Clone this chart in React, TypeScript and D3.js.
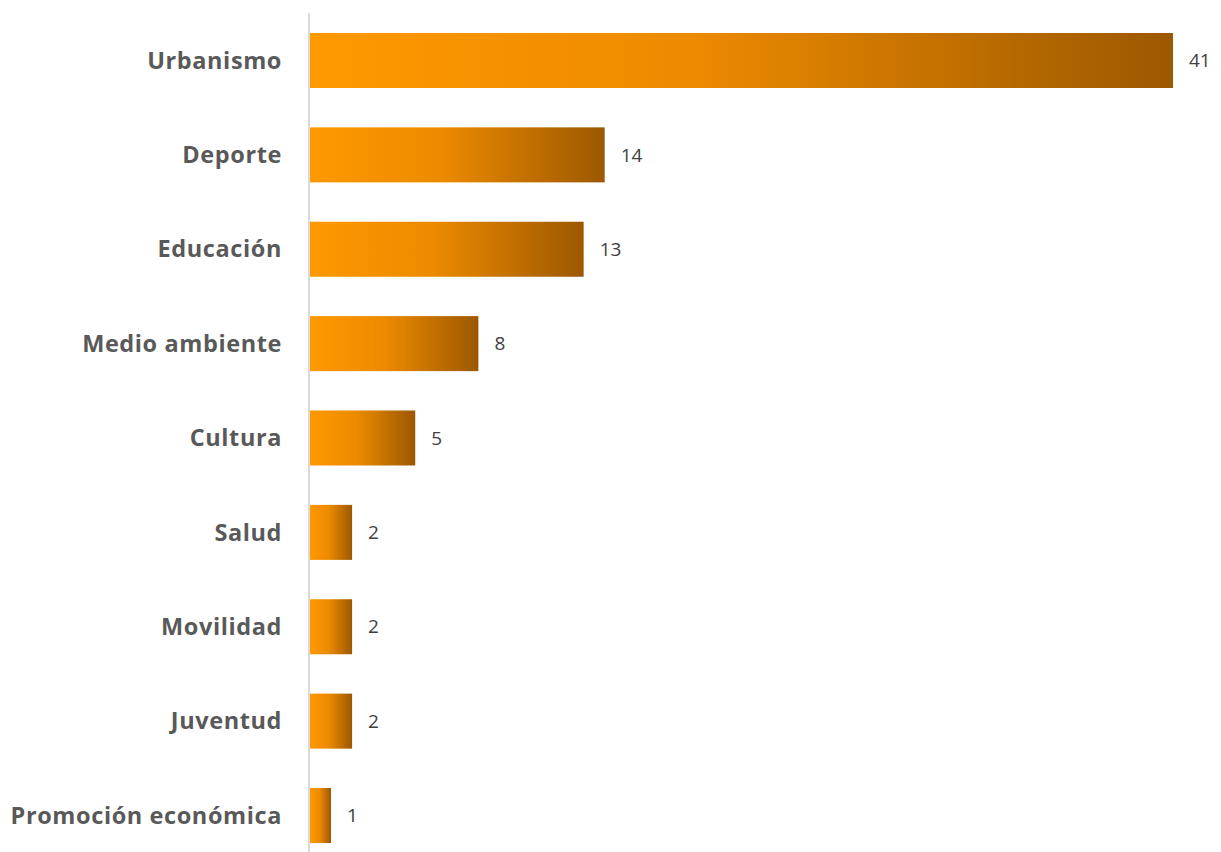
import React from "react";
import * as d3 from "d3";

const categories = ["Urbanismo", "Deporte", "Educación", "Medio ambiente", "Cultura", "Salud", "Movilidad", "Juventud", "Promoción económica"];
const values = [41, 14, 13, 8, 5, 2, 2, 2, 1];

const W = 1221;
const H = 852;

export default function App() {
  const x0 = 310;
  const x = d3.scaleLinear().domain([0, 41]).range([x0, 1173]);
  const y = d3.scaleBand<string>().domain(categories).range([13.3, 862.7]).paddingInner(0.417).paddingOuter(0.2085);
  return (
    <svg width={W} height={H} style={{ position: "absolute", left: 0, top: 0 }}>
      <defs>
        <linearGradient id="barGrad" x1="0" y1="0" x2="1" y2="0">
          <stop offset="0" stopColor="#FF9900" />
          <stop offset="0.45" stopColor="#EC8A00" />
          <stop offset="1" stopColor="#9C5800" />
        </linearGradient>
      </defs>
      <rect x={0} y={0} width={W} height={H} fill="#fff" />
      {categories.map((c, i) => (
        <g key={c}>
          <rect x={x(0)} y={y(c)} width={x(values[i]) - x(0)} height={y.bandwidth()} fill="url(#barGrad)" />
          <text x={282} y={(y(c) as number) + y.bandwidth() / 2} dy="0.35em" textAnchor="end" fontFamily="'Open Sans', sans-serif" fontWeight="bold" fontSize={23.5} letterSpacing={0.6} fill="#595959">{c}</text>
          <text x={x(values[i]) + 16} y={(y(c) as number) + y.bandwidth() / 2} dy="0.35em" textAnchor="start" fontFamily="'Open Sans', sans-serif" fontSize={19} fill="#404040">{values[i]}</text>
        </g>
      ))}
      <line x1={x0 - 1} x2={x0 - 1} y1={13} y2={H} stroke="#D9D9D9" strokeWidth={2} />
    </svg>
  );
}
